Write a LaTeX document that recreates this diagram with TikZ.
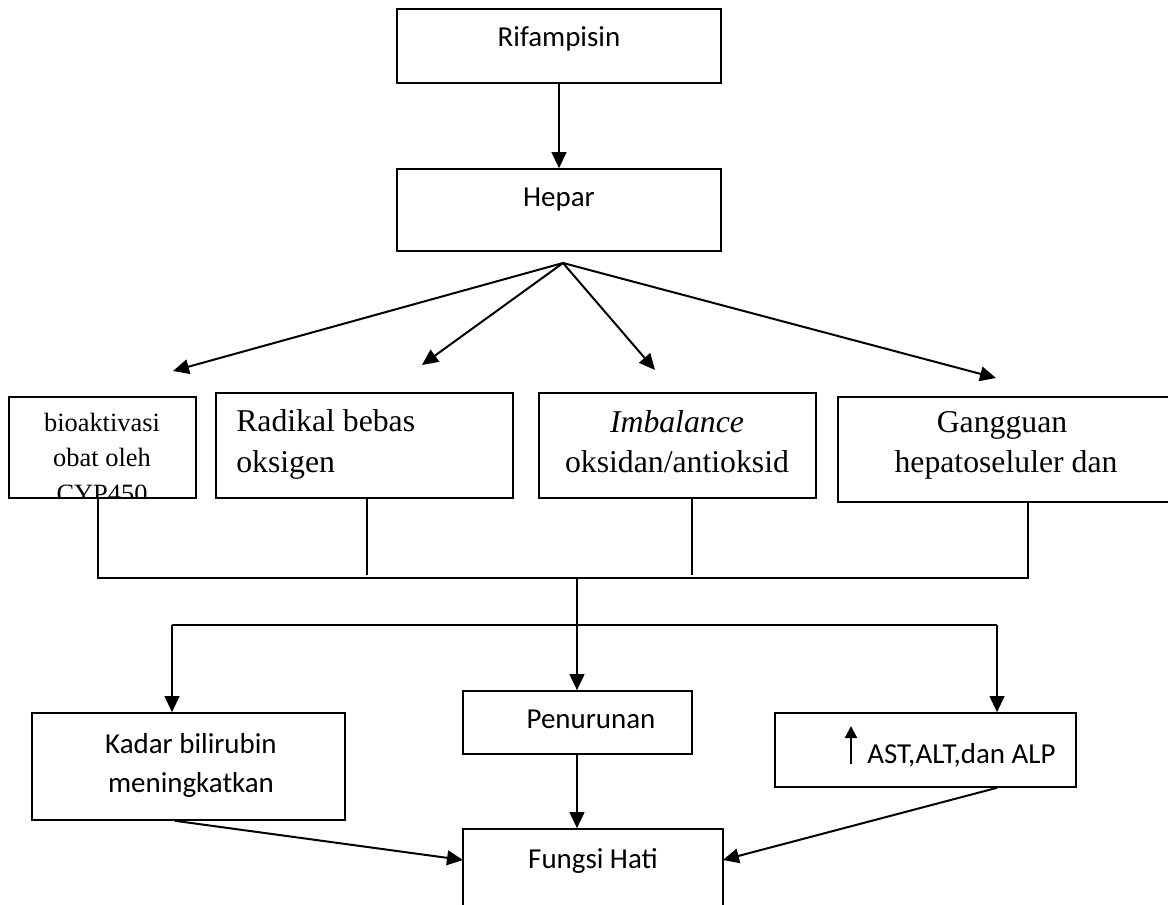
\documentclass[tikz,border=0pt]{standalone}
\usepackage{fontspec}
\setmainfont{Liberation Serif}
\newfontfamily\carl{Carlito}
\usetikzlibrary{arrows.meta,fit,calc}
\begin{document}
\begin{tikzpicture}[x=0.75pt,y=-0.75pt,
  box/.style={draw,line width=1.2pt,inner sep=0pt},
  ln/.style={line width=1.5pt},
  arr/.style={line width=1.5pt,-{Triangle[length=12pt,width=11pt]}},
  cal/.style={font=\carl\fontsize{21.7}{29}\selectfont,inner sep=0pt,anchor=base},
  tms/.style={font=\fontsize{23.8}{30.75}\selectfont,inner sep=0pt,anchor=base},
  tmsS/.style={font=\fontsize{19.8}{26.25}\selectfont,inner sep=0pt,anchor=base}]
\useasboundingbox (0,0) rectangle (1168,905);
\clip (0,0) rectangle (1168,905);
% top
\node[box,fit={(397,9)(721,83)}] (rif) {};
\node[cal] (rift) at (559,47) {Rifampisin};
\node[box,fit={(397,169)(721,251)}] (hep) {};
\node[cal] (hept) at (559,207) {Hepar};
\draw[arr] (rif.south) -- (hep.north);
% fan
\coordinate (apex) at (563,263);
\coordinate (f1) at (173,371);
\coordinate (f2) at (422,365);
\coordinate (f3) at (655,370);
\coordinate (f4) at (996,378);
\foreach \f in {f1,f2,f3,f4} \draw[arr] (apex) -- (\f);
% middle row
\node[box,fit={(9,397)(196,498)}] (bio) {};
\begin{scope}
\clip (9,397) rectangle (196,498);
\node[tmsS] (bio1) at (102,432) {bioaktivasi};
\node[tmsS] (bio2) at (102,467) {obat oleh};
\node[tmsS] (bio3) at (102,503) {CYP450};
\end{scope}
\node[box,fit={(216,393)(513,498)}] (rad) {};
\node[tms,anchor=base west] (rad1) at (236,432) {Radikal bebas};
\node[tms,anchor=base west] (rad2) at (236,473) {oksigen};
\node[box,fit={(539,393)(816,498)}] (imb) {};
\node[tms] (imb1) at (677,433) {\itshape Imbalance};
\node[tms] (imb2) at (677,473) {oksidan/antioksid};
\node[box,fit={(838,397)(1172,502)}] (gan) {};
\node[tms] (gan1) at (1002,433) {Gangguan};
\node[tms] (gan2) at (1006,473) {hepatoseluler dan};
% bus 1
\coordinate (b1) at (98,578);
\coordinate (b2) at (367,575);
\coordinate (b3) at (692,575);
\coordinate (b4) at (1028,578);
\coordinate (bc) at (577,578);
\draw[ln] (bio.south -| b1) -- (b1) -- (b4) -- (gan.south -| b4);
\draw[ln] (rad.south -| b2) -- (b2);
\draw[ln] (imb.south -| b3) -- (b3);
% bottom row
\node[box,fit={(463,691)(692,754)}] (pen) {};
\node[cal] (pent) at (591,728) {Penurunan};
\node[box,fit={(32,713)(345,820)}] (kad) {};
\node[cal] (kad1) at (191,753) {Kadar bilirubin};
\node[cal] (kad2) at (191,792) {meningkatkan};
\node[box,fit={(775,713)(1076,787)}] (ast) {};
\coordinate (up0) at (851,764);
\coordinate (up1) at (851,726);
\draw[line width=1.6pt,-{Triangle[length=9pt,width=9pt]}] (up0) -- (up1);
\node[cal,anchor=base west] (astt) at (867,763) {AST,ALT,dan ALP};
\node[box,fit={(463,829)(723,930)}] (fh) {};
\node[cal] (fht) at (593,868) {Fungsi Hati};
% bus 2
\draw[arr] (bc) -- (bc |- pen.north);
\coordinate (l2) at (172,625);
\coordinate (r2) at (997,625);
\draw[ln] (l2) -- (r2);
\draw[arr] (l2) -- (l2 |- kad.north);
\draw[arr] (r2) -- (r2 |- ast.north);
\draw[arr] (pen.south -| bc) -- (bc |- fh.north);
\coordinate (fl) at (463,860);
\coordinate (fr) at (723,860);
\draw[arr] (kad.south -| 175,0) -- (fl);
\draw[arr] (ast.south -| 997,0) -- (fr);
\end{tikzpicture}
\end{document}
